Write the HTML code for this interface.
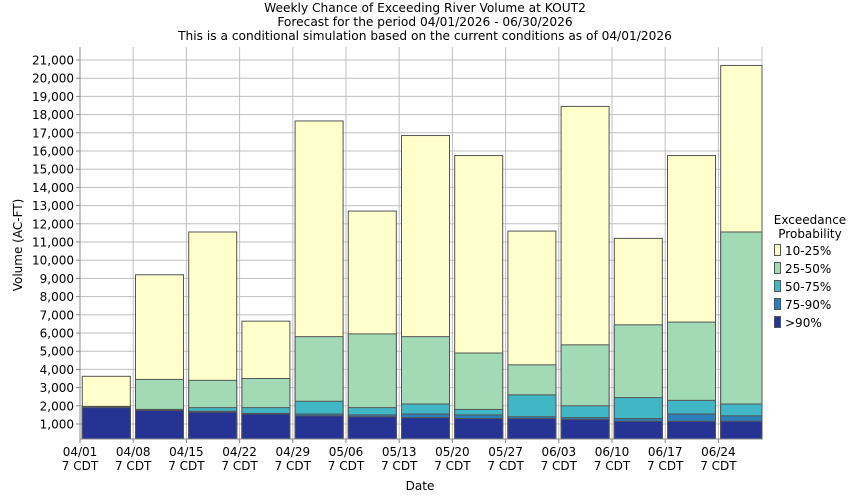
<!DOCTYPE html>
<html><head><meta charset="utf-8"><style>
html,body{margin:0;padding:0;background:#fff;}
svg{display:block;font-family:"DejaVu Sans","Liberation Sans",sans-serif;}
</style></head><body>
<svg id="c" width="850" height="500" viewBox="0 0 850 500" xmlns="http://www.w3.org/2000/svg">
<rect width="850" height="500" fill="#fff"/>
<text x="425" y="12" font-size="12.2" text-anchor="middle">Weekly Chance of Exceeding River Volume at KOUT2</text>
<text x="425" y="26" font-size="12.2" text-anchor="middle">Forecast for the period 04/01/2026 - 06/30/2026</text>
<text x="425" y="40" font-size="12.2" text-anchor="middle">This is a conditional simulation based on the current conditions as of 04/01/2026</text>
<g id="grid"></g>
<g id="bars"></g>
<g id="axes"></g>
<text x="420" y="490" font-size="12" text-anchor="middle">Date</text>
<text transform="translate(22,245) rotate(-90)" font-size="12" text-anchor="middle">Volume (AC-FT)</text>
<text x="810" y="224" font-size="12" text-anchor="middle">Exceedance</text>
<text x="810" y="238" font-size="12" text-anchor="middle">Probability</text>
<g id="leg"></g>
</svg>
<script>
(function(){
var NS="http://www.w3.org/2000/svg";
function el(p,t,a,txt){var e=document.createElementNS(NS,t);for(var k in a)e.setAttribute(k,a[k]);if(txt!==undefined)e.textContent=txt;document.getElementById(p).appendChild(e);return e;}
var L=80,R=762,T=47,B=439;
function Y(v){return 424-(v-1000)*0.0182;}
var step=53.2;
for(var v=1000;v<=21000;v+=1000){var y=Y(v);el("grid","line",{x1:L,x2:R,y1:y,y2:y,stroke:"#c0c0c0","stroke-width":1});
el("axes","line",{x1:L-4,x2:L,y1:y,y2:y,stroke:"#888"});
el("axes","text",{x:L-6,y:y+4.5,"font-size":"12","text-anchor":"end"},v.toLocaleString("en-US"));}
var labs=["04/01","04/08","04/15","04/22","04/29","05/06","05/13","05/20","05/27","06/03","06/10","06/17","06/24"];
for(var i=0;i<13;i++){var x=L+i*step;el("grid","line",{x1:x,x2:x,y1:T,y2:B,stroke:"#c0c0c0"});
el("axes","line",{x1:x,x2:x,y1:B,y2:B+4,stroke:"#888"});
el("axes","text",{x:x,y:456,"font-size":"12","text-anchor":"middle"},labs[i]);
el("axes","text",{x:x,y:470,"font-size":"12","text-anchor":"middle"},"7 CDT");}
el("axes","line",{x1:L,x2:L,y1:T,y2:B,stroke:"#888"});
el("axes","line",{x1:L,x2:R,y1:B,y2:B,stroke:"#888"});
el("grid","line",{x1:R,x2:R,y1:T,y2:B,stroke:"#c0c0c0"});
var cols=["#253494","#2c7fb8","#41b6c4","#a1dab4","#ffffcc"];
var d=[[1900,1950,1950,1970,3620],[1750,1800,1800,3450,9200],[1650,1700,1900,3400,11550],[1550,1580,1900,3500,6650],[1450,1550,2250,5800,17650],[1400,1500,1900,5950,12700],[1350,1550,2100,5800,16850],[1300,1500,1800,4900,15750],[1300,1400,2600,4250,11600],[1250,1350,2000,5350,18450],[1150,1300,2450,6450,11200],[1150,1550,2300,6600,15750],[1150,1450,2100,11550,20700]];
for(var i=0;i<13;i++){var x0=L+i*step+2.3,x1=Math.min(x0+48,R);
 for(var j=4;j>=0;j--){var yt=Y(d[i][j]);
  el("bars","rect",{x:x0,y:yt,width:x1-x0,height:B-yt,fill:cols[j],stroke:"#555","stroke-width":1});}
}
var ln=["10-25%","25-50%","50-75%","75-90%",">90%"];
for(var k=0;k<5;k++){var y=244+k*18;el("leg","rect",{x:774.5,y:y+0.5,width:6,height:11,fill:cols[4-k],stroke:"#555"});
el("leg","text",{x:785,y:y+11,"font-size":"12"},ln[k]);}
})();
</script>
</body></html>
